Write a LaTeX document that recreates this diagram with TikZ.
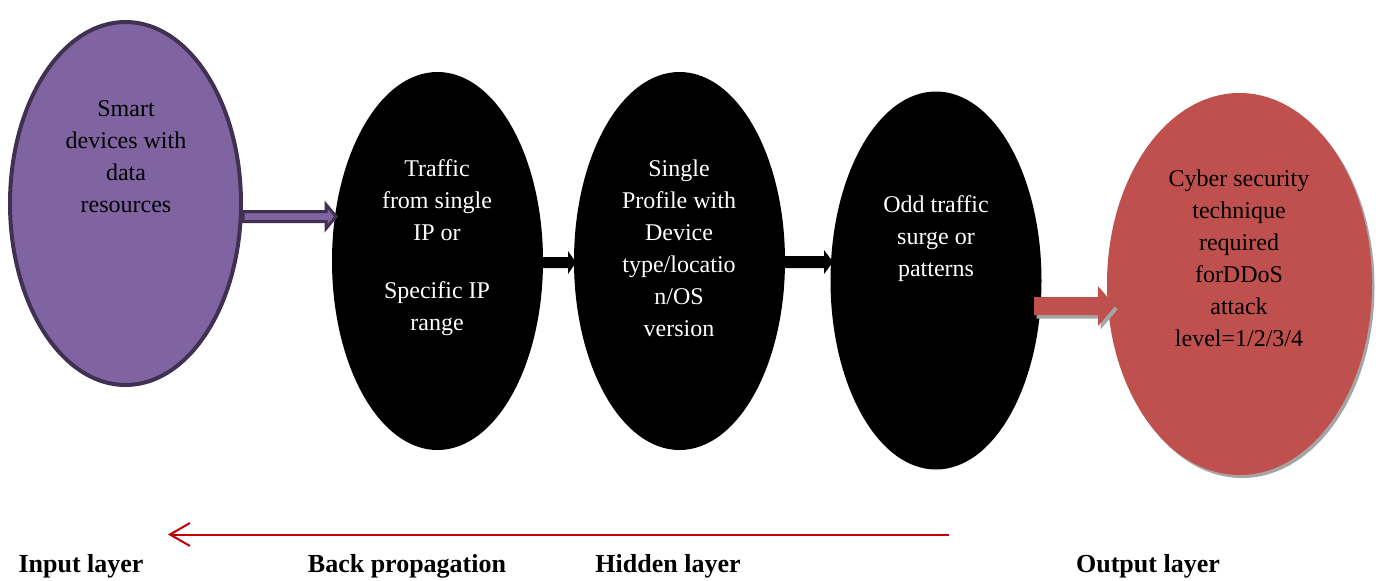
\documentclass[tikz,border=0pt]{standalone}
\usepackage{fontspec}
\setmainfont{Liberation Serif}
\usetikzlibrary{shapes.geometric,arrows.meta,calc,shadows}

\definecolor{inpurple}{HTML}{8064A2}
\definecolor{inpurpledark}{HTML}{403152}
\definecolor{outred}{HTML}{C0504D}
\definecolor{bpred}{HTML}{C00000}
\definecolor{shadegray}{HTML}{A5A5A5}

% block arrow from #2 to #3: style #1, body half-height #4, head half-height #5, head length #6
\newcommand\blockarr[6]{%
  \path[#1] let \p1=(#2), \p2=(#3) in
    (\x1,\y1-#4) -- (\x2-#6,\y1-#4) -- (\x2-#6,\y1-#5) -- (\x2,\y1)
    -- (\x2-#6,\y1+#5) -- (\x2-#6,\y1+#4) -- (\x1,\y1+#4) -- cycle;}

\tikzset{
  oval/.style={ellipse, inner sep=0pt, minimum width=#1},
  inputoval/.style={oval=231pt, minimum height=363pt, fill=inpurple, draw=inpurpledark, line width=4pt},
  hiddenoval/.style={oval=211pt, minimum height=378pt, fill=black},
  outputoval/.style={oval=265pt, minimum height=382pt, fill=outred,
    drop shadow={shadow xshift=2.5pt, shadow yshift=-3pt, opacity=1, fill=shadegray}},
  ovaltext/.style={align=center, font=\fontsize{24}{32}\selectfont, inner sep=0pt},
  layerlabel/.style={font=\fontsize{26}{30}\selectfont\bfseries, anchor=base, inner sep=0pt},
  purplearrow/.style={fill=inpurple, draw=inpurpledark, line width=3pt, line join=miter},
  blackarrow/.style={fill=black},
  redarrow/.style={fill=outred,
    drop shadow={shadow xshift=2.5pt, shadow yshift=-3.5pt, opacity=1, fill=shadegray}},
  backprop/.style={draw=bpred, line width=2pt, -{Straight Barb[length=20pt,width=23pt,line width=2pt]}}
}

\begin{document}
\begin{tikzpicture}[x=1pt, y=-1pt]
\useasboundingbox (0,0) rectangle (1379,581);

% layer ovals
\node[inputoval]  (in)  at (125.5,203.5) {};
\node[hiddenoval] (h1)  at (437.5,261)   {};
\node[hiddenoval] (h2)  at (679.5,261)   {};
\node[hiddenoval] (h3)  at (936,280.5)   {};
\node[outputoval] (out) at (1239.5,284)  {};

% oval texts
\node[ovaltext] (tin) at (126,157) {Smart\\devices with\\data\\resources};
\node[ovaltext, text=white] (th1) at (437,248) {Traffic\\from single\\IP or\\[26pt]Specific IP\\range};
\node[ovaltext, text=white] (th2) at (679,248.5) {Single\\Profile with\\Device\\type/locatio\\n/OS\\version};
\node[ovaltext, text=white] (th3) at (936,238.5) {Odd traffic\\surge or\\patterns};
\node[ovaltext] (tout) at (1239,258.5) {Cyber security\\technique\\required\\forDDoS\\attack\\level=1/2/3/4};

% connector end points
\coordinate (a0s) at (in.east |- 0,216.5);
\coordinate (a0e) at (336,216.5);
\coordinate (a1s) at (h1.east |- 0,262.5);
\coordinate (a1e) at (576,262.5);
\coordinate (a2s) at (h2.east |- 0,262);
\coordinate (a2e) at (833,262);
\coordinate (a3s) at (1034,306);
\coordinate (a3e) at (1115,306);

% block arrows between layers
\blockarr{purplearrow}{a0s}{a0e}{5pt}{12pt}{10pt}
\blockarr{blackarrow}{a1s}{a1e}{5.5pt}{11.5pt}{8pt}
\blockarr{blackarrow}{a2s}{a2e}{6pt}{12pt}{9pt}
\blockarr{redarrow}{a3s}{a3e}{9pt}{20pt}{17pt}

% back propagation arrow
\coordinate (bps) at (949,534.5);
\coordinate (bpe) at (168,534.5);
\draw[backprop] (bps) -- (bpe);

% layer labels
\node[layerlabel] (lin)  at (81,572)   {Input layer};
\node[layerlabel] (lbp)  at (407,572)  {Back propagation};
\node[layerlabel] (lhid) at (668,572)  {Hidden layer};
\node[layerlabel] (lout) at (1148,572) {Output layer};
\end{tikzpicture}
\end{document}
